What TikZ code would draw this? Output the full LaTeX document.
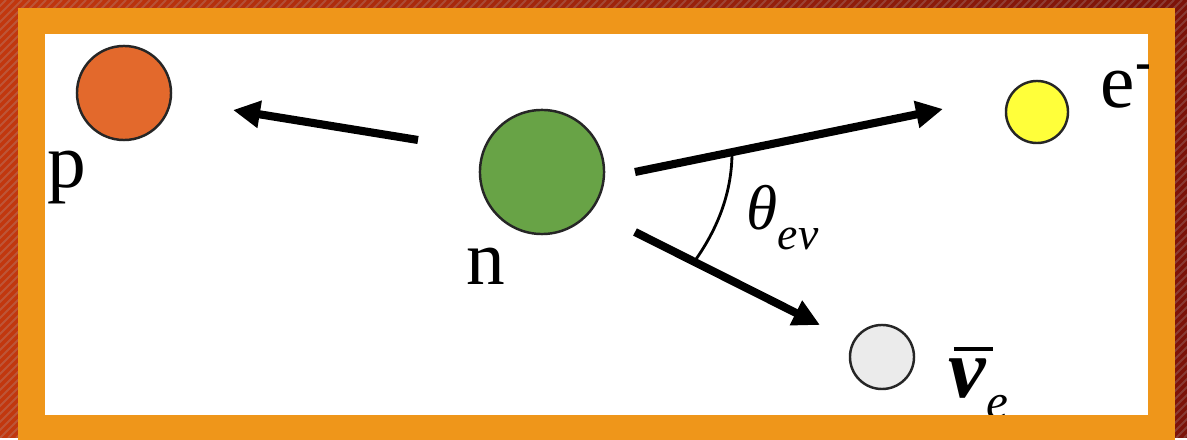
\documentclass[tikz,border=0pt]{standalone}
\usepackage{fontspec}
\setmainfont{Liberation Serif}
\usetikzlibrary{arrows.meta,calc}
\definecolor{RimL}{HTML}{C2370E}
\definecolor{RimR}{HTML}{7C1309}
\definecolor{Frame}{HTML}{EF961A}
\definecolor{ProtonC}{HTML}{E3692C}
\definecolor{NeutronC}{HTML}{68A346}
\definecolor{ElectronC}{HTML}{FFFF3A}
\definecolor{NuC}{HTML}{EBEBEB}
\tikzset{
  particle/.style={circle,draw=black!85,line width=0.7pt,inner sep=0pt},
  decay/.style={-{Triangle[length=2.7mm,width=2.6mm]},line width=2.3pt,draw=black},
  plabel/.style={font=\fontsize{22}{22}\selectfont,inner sep=0pt,anchor=base}
}
\begin{document}
\begin{tikzpicture}[x=0.01cm,y=-0.01cm]
  % frame
  \shade[left color=RimL,right color=RimR] (0,0) rectangle (1187,438);
  \begin{scope}
    \clip (0,0) rectangle (1187,438);
    \foreach \k in {-440,-432,...,1190}
      \draw[black!30,opacity=0.25,line width=0.6pt] (\k,438) -- (\k+438,0);
  \end{scope}
  \fill[Frame] (18,8) rectangle (1175,440);
  \fill[white] (45,34) rectangle (1148,415);
  \useasboundingbox (0,0) rectangle (1187,438);

  \begin{scope}
  \clip (45,34) rectangle (1148,415);
  % particles
  \node[particle,fill=ProtonC,minimum size=0.94cm] (proton) at (124,93) {};
  \node[particle,fill=NeutronC,minimum size=1.24cm] (neutron) at (542,172) {};
  \node[particle,fill=ElectronC,minimum size=0.62cm] (electron) at (1037,112) {};
  \node[particle,fill=NuC,minimum size=0.64cm] (antinu) at (882,357) {};

  % labels
  \node[plabel] (plab) at (67,188) {p};
  \node[plabel] (nlab) at (486,285) {n};
  \node[font=\fontsize{22}{22}\selectfont,inner sep=0pt,anchor=base west] (elab) at (1100,108)
    {e\raisebox{8pt}{\bfseries\fontsize{15}{15}\selectfont -}};
  \node[inner sep=0pt,anchor=base west] (thetalab) at (746,230)
    {\fontsize{18}{18}\selectfont\itshape θ\raisebox{-5.6pt}{\fontsize{13}{13}\selectfont eν}};
  \node[inner sep=0pt,anchor=base west] (nulab) at (948,398)
    {\fontsize{24}{24}\selectfont\bfseries\itshape\rlap{\hspace{1.5pt}\rule[13.4pt]{11pt}{1pt}}ν\raisebox{-5.7pt}{\mdseries\fontsize{14}{14}\selectfont e}};

  % decay arrows
  \coordinate (ptail) at (418,140);
  \coordinate (ptip) at (233,110);
  \coordinate (etail) at (635,172);
  \coordinate (etip) at (943,109);
  \coordinate (nutail) at (635,232);
  \coordinate (nutip) at (820,325);
  \draw[decay] (ptail) -- (ptip);
  \draw[decay] (etail) -- (etip);
  \draw[decay] (nutail) -- (nutip);

  % opening angle
  \coordinate (arcA) at ($(etail)!0.315!(etip)$);
  \coordinate (arcB) at ($(nutail)!0.32!(nutip)$);
  \draw[line width=0.8pt] (arcA) .. controls +(0,45) and +(20,-28) .. (arcB);
  \end{scope}
\end{tikzpicture}
\end{document}
